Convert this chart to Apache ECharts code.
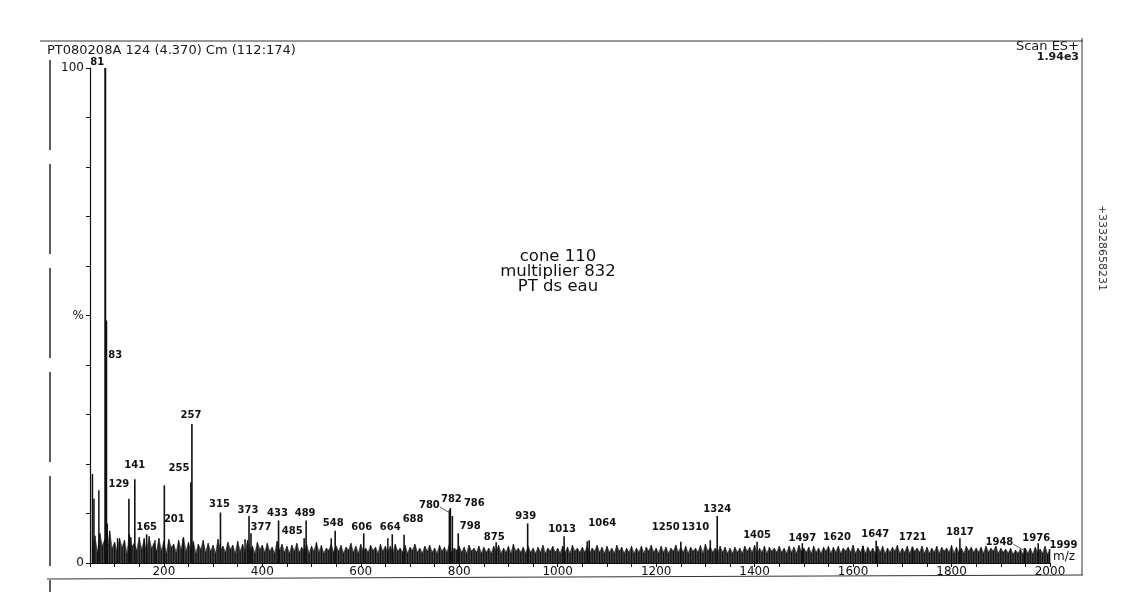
<!DOCTYPE html>
<html><head><meta charset="utf-8">
<script src="https://cdn.jsdelivr.net/npm/echarts@6/dist/echarts.min.js"></script>
<style>html,body{margin:0;padding:0;background:#fff}#c{width:1131px;height:607px}</style>
</head><body><div id="c"></div>
<script>
// ---- data ----
const peakMz  = [81,83,129,141,165,201,255,257,315,373,377,433,485,489,548,606,664,688,780,782,786,798,875,939,1013,1064,1250,1310,1324,1405,1497,1620,1647,1721,1817,1948,1976,1999];
const peakPct = [100,49,13,16.9,5.8,15.7,16.3,28.1,10.2,9.5,6,8.6,5,8.6,6.5,6,5.8,5.7,10.7,11.1,9.5,6,4.2,8,5.4,4.6,4.3,4.6,9.5,4.3,4,3.5,4.5,3.3,5,3,4,2.8];
const peakLabels = ['81','83','129','141','165','201','255','257','315','373','377','433','485','489','548','606','664','688','780','782','786','798','875','939','1013','1064','1250','1310','1324','1405','1497','1620','1647','1721','1817','1948','1976','1999'];
const minorMz  = [55,58,68,85,106,133,160,182,239,365,540,655,1060];
const minorPct = [18,13,14.7,8,5,5.2,5,4.6,5,4.8,5,5,4.4];
const noiseStart = 55, noiseStep = 5;
const noisePct = [
3.0,5.5,2.2,6.0,3.5,4.8,2.5,6.5,3.0,4.2,2.4,5.0,3.2,4.6,2.0,5.8,3.4,4.0,2.6,5.2,
2.8,4.6,2.2,5.4,3.0,4.0,2.4,5.0,2.6,4.4,2.0,4.8,3.2,3.8,2.2,4.6,2.8,5.2,2.4,4.2,
2.6,4.4,2.0,3.8,2.8,4.6,2.2,4.0,2.4,3.6,2.0,4.8,2.6,3.4,2.2,4.2,2.8,3.6,2.0,4.4,
2.4,3.8,2.2,4.6,2.6,3.4,2.0,4.2,2.8,3.6,2.2,4.0,2.4,3.2,2.0,4.4,2.6,3.8,2.2,3.4,
2.0,3.6,2.4,4.0,2.2,3.2,2.6,3.8,2.0,3.4,2.4,4.2,2.2,3.6,2.0,3.0,2.6,3.8,2.2,3.4,
2.4,3.6,2.0,3.2,2.6,4.0,2.2,3.4,2.0,3.8,2.4,3.0,2.2,3.6,2.6,3.2,2.0,3.8,2.4,3.4,
2.2,3.4,2.0,3.8,2.4,3.0,2.2,3.6,2.0,3.2,2.6,3.8,2.2,3.0,2.0,3.4,2.4,3.6,2.2,3.0,
2.0,3.6,2.4,3.2,2.2,3.8,2.0,3.0,2.6,3.4,2.2,3.2,2.0,3.6,2.4,3.0,2.2,3.4,2.0,3.2,
2.2,3.0,2.0,3.4,2.4,3.6,2.0,3.0,2.2,3.4,2.0,3.8,2.4,3.0,2.2,3.2,2.0,3.4,2.2,3.0,
2.0,3.2,2.2,3.6,2.0,3.0,2.4,3.4,2.2,3.0,2.0,3.4,2.2,3.2,2.0,3.6,2.4,3.0,2.2,3.2,
2.2,3.4,2.0,3.0,2.4,3.6,2.2,3.2,2.0,3.4,2.2,3.0,2.0,3.6,2.4,3.2,2.0,3.0,2.2,3.4,
2.0,3.0,2.2,3.4,2.0,3.2,2.4,3.6,2.2,3.0,2.0,3.4,2.2,3.2,2.0,3.0,2.4,3.6,2.2,3.2,
2.2,3.4,2.0,3.2,2.4,3.0,2.2,3.6,2.0,3.8,2.4,3.2,2.2,3.0,2.0,3.4,2.2,3.2,2.0,3.0,
2.0,3.2,2.2,3.0,2.0,3.4,2.4,3.2,2.2,3.6,2.0,3.0,2.2,3.4,2.0,3.2,2.4,3.0,2.2,3.4,
2.2,3.0,2.0,3.4,2.2,3.2,2.0,3.6,2.4,3.0,2.2,3.2,2.0,3.4,2.2,3.0,2.0,3.2,2.4,3.4,
2.0,3.2,2.2,3.4,2.0,3.0,2.4,3.2,2.2,3.6,2.0,3.0,2.2,3.4,2.0,3.2,2.2,3.0,2.0,3.4,
2.2,3.4,2.0,3.0,2.2,3.2,2.4,3.6,2.0,3.0,2.2,3.4,2.0,3.2,2.4,3.0,2.2,3.4,2.0,3.2,
2.0,3.0,2.2,3.4,2.0,3.2,2.4,3.0,2.2,3.6,2.0,3.2,2.2,3.0,2.0,3.4,2.4,3.2,2.2,3.0,
2.2,3.2,2.0,3.4,2.2,3.0,2.4,3.4,2.0,3.0,2.2,2.8,2.0,3.0,1.8,2.6,2.0,2.8,1.8,3.0,
2.0,3.0,1.8,3.2,2.2,2.8,2.0,3.4,1.8,2.6
];
const yTickLabels = {0:'0', 50:'%', 100:'100'};
const headerText = 'PT080208A 124 (4.370) Cm (112:174)';
const scanText = 'Scan ES+';
const intensityText = '1.94e3';
const noteLines = ['cone 110','multiplier 832','PT ds eau'];
const phoneText = '+33328658231';

// ---- layout (label nudges in px, relative to default spot above the peak) ----
const labelNudge = {
 '81':[-8,3],'83':[9,44],'129':[-10,-5],'141':[0,-5],'165':[0,2],'201':[10,43],'255':[-12,-5],'257':[-1,1],
 '315':[-1,1],'373':[-1,3],'377':[10,3],'433':[-1,2],'485':[-12,2],'489':[-1,2],'548':[-2,2],'606':[-2,3],
 '664':[-2,2],'688':[9,-6],'780':[-20,4],'782':[1,0],'786':[22,-4],'798':[12,2],'875':[-2,4],'939':[-2,2],
 '1013':[-2,2],'1064':[13,-8],'1250':[-15,-5],'1310':[-15,-4],'1324':[0,2],'1405':[0,3],'1497':[0,4],
 '1620':[-26,1],'1647':[-1,3],'1721':[0,0],'1817':[0,3],'1948':[-25,3],'1976':[-2,4],'1999':[14,5]
};
const leaderLabels = {'780':1,'1948':1};
const noteLineY = [256.5, 271.5, 287];
const FONT = '"DejaVu Sans", "Liberation Sans", sans-serif';

const chart = echarts.init(document.getElementById('c'), null, {renderer:'canvas'});
const noiseData = noisePct.map((v,i)=>[noiseStart + i*noiseStep, v]);
const peakData = peakMz.map((m,i)=>[m, peakPct[i]]);
const minorData = minorMz.map((m,i)=>[m, minorPct[i]]);

function stickWith(width, color){
  return function(params, api){
    const mz = api.value(0), h = api.value(1);
    const b = api.coord([mz,0]), t = api.coord([mz,h]);
    return {type:'line', shape:{x1:b[0],y1:b[1],x2:t[0],y2:t[1]}, style:{stroke:color, lineWidth:width}};
  };
}
function labeledStick(params, api){
  const i = params.dataIndex;
  const mz = api.value(0), h = api.value(1);
  const b = api.coord([mz,0]), t = api.coord([mz,h]);
  const lab = peakLabels[i];
  const nd = labelNudge[lab] || [0,0];
  const cx = t[0] + nd[0], cy = t[1] - 9 + nd[1];
  const ch = [
    {type:'line', shape:{x1:b[0],y1:b[1],x2:t[0],y2:t[1]}, style:{stroke:'#111', lineWidth: h>40?2:1.6}},
    {type:'text', style:{text:lab, x:cx, y:cy, align:'center', verticalAlign:'middle', font:'bold 10px '+FONT, fill:'#111'}}
  ];
  if (leaderLabels[lab]) {
    const w = lab.length*3.5;
    ch.push({type:'line', shape:{x1:cx+w, y1:cy+2, x2:t[0]-1, y2:t[1]+2}, style:{stroke:'#333', lineWidth:0.8}});
  }
  return {type:'group', children:ch};
}

const graphics = [
  {type:'line', shape:{x1:40,y1:41,x2:1083,y2:41}, style:{stroke:'#333', lineWidth:1}},
  {type:'line', shape:{x1:50,y1:60,x2:50,y2:592}, style:{stroke:'#333', lineWidth:1.6, lineDash:[90,14]}},
  {type:'line', shape:{x1:47,y1:579,x2:1083,y2:575}, style:{stroke:'#333', lineWidth:1}},
  {type:'line', shape:{x1:1082,y1:38,x2:1082,y2:575}, style:{stroke:'#333', lineWidth:1}},
  {type:'text', x:47, y:50.5, style:{text:headerText, align:'left', verticalAlign:'middle', font:'13px '+FONT, fill:'#1a1a1a'}},
  {type:'text', x:1079, y:46.5, style:{text:scanText, align:'right', verticalAlign:'middle', font:'13px '+FONT, fill:'#1a1a1a'}},
  {type:'text', x:1079, y:57, style:{text:intensityText, align:'right', verticalAlign:'middle', font:'bold 11px '+FONT, fill:'#1a1a1a'}},
  {type:'text', x:1102, y:248, rotation:-Math.PI/2, style:{text:phoneText, align:'center', verticalAlign:'middle', font:'11px '+FONT, fill:'#333'}}
];
noteLines.forEach((t,i)=>graphics.push({type:'text', x:558, y:noteLineY[i], style:{text:t, align:'center', verticalAlign:'middle', font:'16.5px '+FONT, fill:'#111'}}));

chart.setOption({
  animation:false,
  backgroundColor:'#ffffff',
  grid:{left:90, right:81, top:68, bottom:44},
  xAxis:{type:'value', min:50, max:2000, interval:50,
    axisLine:{lineStyle:{color:'#111', width:1.2}},
    axisTick:{length:4, lineStyle:{color:'#111'}},
    axisLabel:{margin:3, color:'#111', fontSize:12, fontFamily:FONT, formatter:v=> (v%200===0? String(v):'')},
    splitLine:{show:false},
    name:'m/z', nameLocation:'end', nameGap:3,
    nameTextStyle:{color:'#111', fontSize:12, fontFamily:FONT, align:'left', verticalAlign:'bottom'}
  },
  yAxis:{type:'value', min:0, max:100, interval:10,
    axisLine:{show:true, lineStyle:{color:'#111', width:1.2}},
    axisTick:{show:true, length:4, lineStyle:{color:'#111'}},
    axisLabel:{margin:6, color:'#111', fontSize:12, fontFamily:FONT, formatter:v=> (yTickLabels[v]!==undefined? yTickLabels[v]:'')},
    splitLine:{show:false}
  },
  series:[
    {type:'line', data:noiseData, symbol:'none', silent:true, z:2,
     lineStyle:{color:'#333', width:0.6}, areaStyle:{color:'#222', opacity:0.85}},
    {type:'custom', data:noiseData, renderItem:stickWith(1.1,'#111'), clip:true, silent:true, z:3},
    {type:'custom', data:minorData, renderItem:stickWith(1.5,'#111'), clip:false, silent:true, z:3},
    {type:'custom', data:peakData, renderItem:labeledStick, clip:false, silent:true, z:4}
  ],
  graphic:graphics
});
</script></body></html>
